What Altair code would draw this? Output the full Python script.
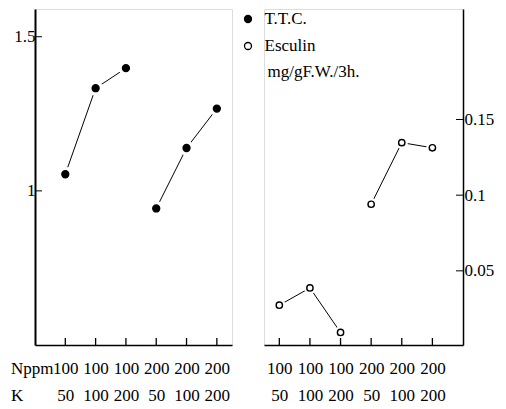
import json
import altair as alt
import pandas as pd

# ---- data ----
positions = [1, 2, 3, 4, 5, 6]
n_ppm = ["100", "100", "100", "200", "200", "200"]
k_ppm = ["50", "100", "200", "50", "100", "200"]
ttc = [1.054, 1.333, 1.398, 0.943, 1.139, 1.267]
esculin = [0.0273, 0.0387, 0.0093, 0.094, 0.1347, 0.1313]
series_names = ["T.T.C.", "Esculin"]
ttc_ticks = [1, 1.5]
esc_ticks = [0.05, 0.1, 0.15]
row_titles = ["Nppm", "\u00a0\u00a0K"]
unit_label = "mg/gF.W./3h."

FONT = "'Liberation Serif', 'DejaVu Serif', 'Times New Roman', serif"
FS = 17
W_L, W_R, H = 197, 199, 336

ttc_df = pd.DataFrame({"pos": positions, "N": n_ppm, "K": k_ppm,
                       "value": ttc, "series": series_names[0]})
esc_df = pd.DataFrame({"pos": positions, "N": n_ppm, "K": k_ppm,
                       "value": esculin, "series": series_names[1]})
pos_df = pd.DataFrame({"pos": positions})
ttc_tick_df = pd.DataFrame({"value": ttc_ticks})
esc_tick_df = pd.DataFrame({"value": esc_ticks})

label_expr = f"[{json.dumps(n_ppm)}[datum.value - 1], {json.dumps(k_ppm)}[datum.value - 1]]"
num_label_expr = "'' + datum.value"

fill_scale = alt.Scale(domain=series_names, range=["black", "white"])
legend = alt.Legend(orient="none", legendX=204.5, legendY=1.5, title=None,
                    labelFont=FONT, labelFontSize=FS, labelColor="black",
                    symbolType="circle", symbolSize=49, symbolStrokeColor="black",
                    symbolStrokeWidth=1.3, rowPadding=9, labelOffset=8, padding=0)


def x_axis(with_title):
    kw = dict(values=positions, labelExpr=label_expr, ticks=False, tickSize=0, grid=False,
              labelPadding=15, labelBaseline="top", labelLineHeight=27, labelFontSize=FS,
              labelFont=FONT, labelColor="black", labelAngle=0, labelFlush=False,
              labelOverlap=False, labelSeparation=0, domainColor="black", domainWidth=1.5)
    if with_title:
        kw.update(title=row_titles, titleX=-24.5, titleY=15, titleAlign="left",
                  titleBaseline="top", titleAngle=0, titleFont=FONT, titleFontSize=FS,
                  titleFontWeight="normal", titleLineHeight=27, titleColor="black")
    else:
        kw.update(title=None)
    return alt.Axis(**kw)


# ---- left panel: T.T.C. ----
xl = alt.X("pos:Q", scale=alt.Scale(domain=[0, 6.5], nice=False, zero=False), axis=x_axis(True))
yl = alt.Y("value:Q", scale=alt.Scale(domain=[0.5, 1.59], nice=False, zero=False),
           axis=alt.Axis(values=ttc_ticks, labelExpr=num_label_expr, ticks=False, tickSize=0,
                         grid=False, labelPadding=0, labelFont=FONT, labelFontSize=FS,
                         labelColor="black", labelOverlap=False, labelLimit=0,
                         domainColor="black", domainWidth=2, title=None))

left_lines = alt.Chart(ttc_df).mark_line(color="black", strokeWidth=1).encode(x=xl, y=yl, detail="N:N")
left_halo = alt.Chart(ttc_df).mark_circle(size=225, color="white", opacity=1).encode(x=xl, y=yl)
left_pts = alt.Chart(ttc_df).mark_circle(size=49, stroke="black", strokeWidth=1.3, opacity=1).encode(
    x=xl, y=yl, fill=alt.Fill("series:N", scale=fill_scale, legend=legend))
left_yt = alt.Chart(ttc_tick_df).mark_rule(color="black", strokeWidth=1).encode(
    y=yl, x=alt.value(0), x2=alt.value(7))
left_xt = alt.Chart(pos_df).mark_rule(color="black", strokeWidth=1.3).encode(
    x=xl, y=alt.value(H), y2=alt.value(H - 7))
left = alt.layer(left_lines, left_halo, left_yt, left_xt, left_pts).properties(width=W_L, height=H)

# ---- right panel: Esculin ----
xr = alt.X("pos:Q", scale=alt.Scale(domain=[0.5, 7.0], nice=False, zero=False), axis=x_axis(False))
yr = alt.Y("value:Q", scale=alt.Scale(domain=[0.001, 0.223], nice=False, zero=False),
           axis=alt.Axis(orient="right", values=esc_ticks, labelExpr=num_label_expr, ticks=False,
                         tickSize=0, grid=False, labelPadding=1, labelFont=FONT, labelFontSize=FS,
                         labelColor="black", labelOverlap=False, labelLimit=0,
                         domainColor="black", domainWidth=1.5,
                         title=unit_label, titleX=-196, titleY=62, titleAngle=0,
                         titleAlign="left", titleBaseline="middle", titleFont=FONT,
                         titleFontSize=FS, titleFontWeight="normal", titleColor="black"))

right_lines = alt.Chart(esc_df).mark_line(color="black", strokeWidth=1).encode(x=xr, y=yr, detail="N:N")
right_halo = alt.Chart(esc_df).mark_circle(size=150, color="white", opacity=1).encode(x=xr, y=yr)
right_pts = alt.Chart(esc_df).mark_circle(size=40, stroke="black", strokeWidth=1.4, opacity=1).encode(
    x=xr, y=yr, fill=alt.Fill("series:N", scale=fill_scale, legend=legend))
right_yt = alt.Chart(esc_tick_df).mark_rule(color="black", strokeWidth=1).encode(
    y=yr, x=alt.value(W_R - 7), x2=alt.value(W_R))
right_xt = alt.Chart(pos_df).mark_rule(color="black", strokeWidth=1.3).encode(
    x=xr, y=alt.value(H), y2=alt.value(H - 7))
right = alt.layer(right_lines, right_halo, right_yt, right_xt, right_pts).properties(width=W_R, height=H)

chart = alt.hconcat(left, right, spacing=30).resolve_scale(fill="shared").properties(
    padding={"left": 2, "top": 0, "right": 0, "bottom": 0}
).configure_view(stroke=None).configure(font=FONT, background="white").configure_axis(
    labelOverlap=False, labelFont=FONT, titleFont=FONT
).configure_legend(labelFont=FONT)

chart.save("out.html", embed_options={"renderer": "svg", "actions": False})
